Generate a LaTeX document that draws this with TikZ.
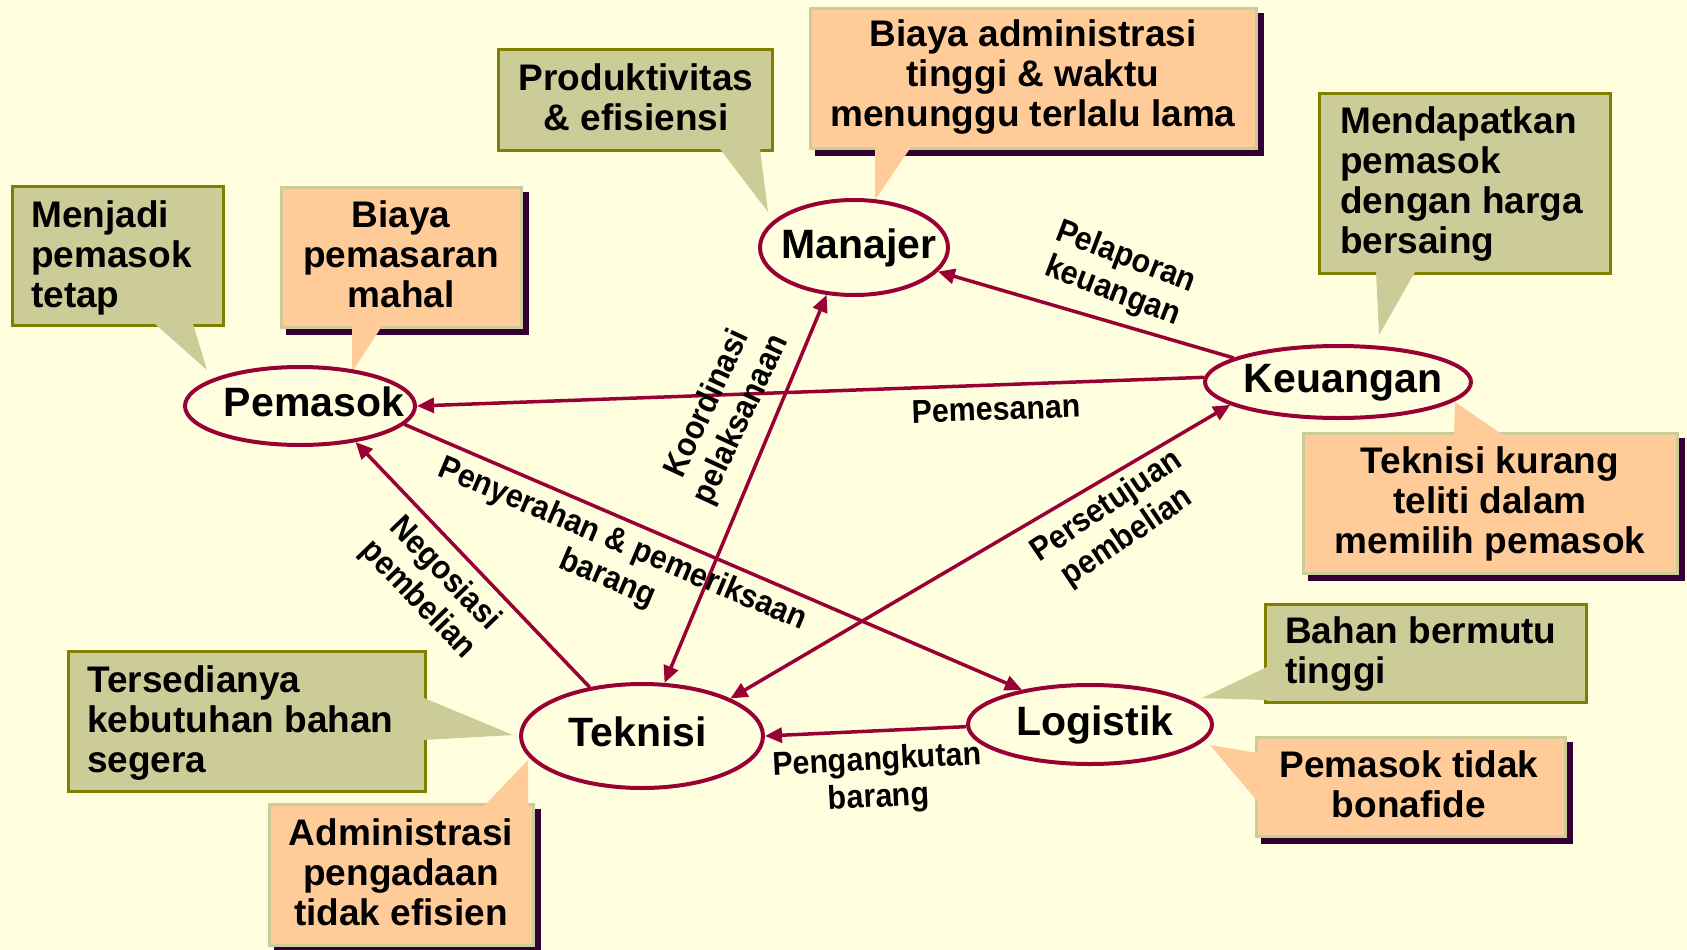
\documentclass[tikz,border=0pt]{standalone}
\usepackage{fontspec}
\setmainfont{Liberation Sans}
\newfontfamily\flowfont[FakeStretch=0.92]{Liberation Sans}
\usetikzlibrary{shapes.geometric,arrows.meta,shadows}

\definecolor{bg}{RGB}{255,255,224}
\definecolor{sage}{RGB}{204,204,153}
\definecolor{olive}{RGB}{128,128,0}
\definecolor{peach}{RGB}{255,204,153}
\definecolor{plum}{RGB}{51,0,51}
\definecolor{wine}{RGB}{153,0,51}

% text inside an ellipse: zero-size box, baseline lowered, optional shift
\newcommand\elltext[2][0pt]{\makebox[0pt]{\hspace*{#1}\raisebox{-0.26em}[0pt][0pt]{#2}}}
% stacked lines whose baseline is the first line
\newcommand\leftlines[1]{\begin{tabular}[t]{@{}l@{}}#1\end{tabular}}
\newcommand\midlines[1]{\begin{tabular}[t]{@{}c@{}}#1\end{tabular}}

\begin{document}
\begin{tikzpicture}[x=1pt,y=-1pt,
  ent/.style={ellipse,draw=wine,line width=4pt,fill=bg,inner sep=0pt,
    font=\fontsize{41}{41}\selectfont\bfseries},
  flow/.style={draw=wine,line width=3.5pt,-{Triangle[length=17pt,width=15pt]}},
  twoway/.style={draw=wine,line width=3.5pt,
    {Triangle[length=17pt,width=15pt]}-{Triangle[length=17pt,width=15pt]}},
  note/.style={rectangle,inner sep=0pt,line width=3pt},
  goal/.style={note,draw=olive,fill=sage},
  issue/.style={note,draw=sage,fill=peach,
    copy shadow={shadow xshift=6pt,shadow yshift=-6pt,fill=plum,draw=plum}},
  notetext/.style={inner sep=0pt,font=\fontsize{37}{40}\selectfont\bfseries},
  flowtext/.style={inner sep=0pt,align=center,font=\flowfont\fontsize{33}{37}\selectfont\bfseries},
]
\fill[bg] (0,0) rectangle (1687,950);
\useasboundingbox (0,0) rectangle (1687,950);

% ---- callout boxes ----
\node[goal,minimum width=211pt,minimum height=139pt] (b1) at (118,256) {};
\fill[sage] (155,324) -- (193,324) -- (207,370) -- cycle;
\node[notetext,anchor=base west] (t1) at (31,227) {\leftlines{Menjadi\\pemasok\\tetap}};

\node[issue,minimum width=240pt,minimum height=140pt] (b2) at (401.5,257.5) {};
\fill[peach] (352,326) -- (382,326) -- (352,372) -- cycle;
\node[notetext,anchor=base] (t2) at (401,227) {\midlines{Biaya\\pemasaran\\mahal}};

\node[goal,minimum width=274pt,minimum height=101pt] (b3) at (635.5,100) {};
\fill[sage] (720,149) -- (760,149) -- (768,212) -- cycle;
\node[notetext,anchor=base] (t3) at (636,90) {\midlines{Produktivitas\\\& efisiensi}};

\node[issue,minimum width=446pt,minimum height=140pt] (b4) at (1033.5,78.5) {};
\fill[peach] (875,147) -- (911,147) -- (875,200) -- cycle;
\node[notetext,anchor=base] (t4) at (1033,47) {\midlines{Biaya administrasi\\tinggi \& waktu\\menunggu terlalu lama}};

\node[goal,minimum width=291pt,minimum height=180pt] (b5) at (1465,183.5) {};
\fill[sage] (1376,272) -- (1415,272) -- (1379,335) -- cycle;
\node[notetext,anchor=base west] (t5) at (1340,133) {\leftlines{Mendapatkan\\pemasok\\dengan harga\\bersaing}};

\node[issue,minimum width=374pt,minimum height=140pt] (b6) at (1490.5,503.5) {};
\fill[peach] (1454,435) -- (1503,435) -- (1455,402) -- cycle;
\node[notetext,anchor=base] (t6) at (1490,473) {\midlines{Teknisi kurang\\teliti dalam\\memilih pemasok}};

\node[goal,minimum width=357pt,minimum height=140pt] (b7) at (247,721.5) {};
\fill[sage] (424,698) -- (424,740) -- (513,735) -- cycle;
\node[notetext,anchor=base west] (t7) at (87,692) {\leftlines{Tersedianya\\kebutuhan bahan\\segera}};

\node[issue,minimum width=264pt,minimum height=141pt] (b8) at (401.5,875) {};
\fill[peach] (484,806) -- (528,806) -- (528,760) -- cycle;
\node[notetext,anchor=base] (t8) at (401,845) {\midlines{Administrasi\\pengadaan\\tidak efisien}};

\node[goal,minimum width=321pt,minimum height=98pt] (b9) at (1426,653.5) {};
\fill[sage] (1267,667) -- (1267,700) -- (1202,698) -- cycle;
\node[notetext,anchor=base west] (t9) at (1285,643) {\leftlines{Bahan bermutu\\tinggi}};

\node[issue,minimum width=309pt,minimum height=99pt] (b10) at (1411,787) {};
\fill[peach] (1258,753) -- (1258,802) -- (1210,745) -- cycle;
\node[notetext,anchor=base] (t10) at (1409,777) {\midlines{Pemasok tidak\\bonafide}};

% ---- actors ----
\node[ent,minimum width=230pt,minimum height=78pt] (pem) at (300,406) {\elltext[28pt]{Pemasok}};
\node[ent,minimum width=188pt,minimum height=95pt] (man) at (854,247.5) {\elltext[10pt]{Manajer}};
\node[ent,minimum width=266pt,minimum height=72pt] (keu) at (1338,382) {\elltext[10pt]{Keuangan}};
\node[ent,minimum width=242pt,minimum height=104pt] (tek) at (642,736) {\elltext[-8pt]{Teknisi}};
\node[ent,minimum width=244pt,minimum height=79pt] (log) at (1090,724.5) {\elltext[10pt]{Logistik}};

% ---- flows ----
\draw[flow] (keu.167) -- (man.344);
\draw[flow] (keu.178) -- (pem.0);
\draw[twoway] (man.240) -- (tek.67);
\draw[flow] (pem.350) -- (log.153);
\draw[flow] (tek.137) -- (pem.327);
\draw[twoway] (tek.23) -- (keu.192);
\draw[flow] (log.181) -- (tek.0);

% ---- flow labels ----
\node[flowtext,rotate=-21] (lapor) at (1119,275) {Pelaporan\\keuangan};
\node[flowtext,rotate=2] (pesan) at (996,409) {Pemesanan};
\node[flowtext,rotate=65] (koord) at (725,412) {Koordinasi\\pelaksanaan};
\node[flowtext,rotate=-23] (serah) at (615,562) {Penyerahan \& pemeriksaan\\barang};
\node[flowtext,rotate=-46] (nego) at (431,587) {Negosiasi\\pembelian};
\node[flowtext,rotate=34] (setuju) at (1117,522) {Persetujuan\\pembelian};
\node[flowtext,rotate=3] (angkut) at (878,780) {Pengangkutan\\barang};
\end{tikzpicture}
\end{document}
